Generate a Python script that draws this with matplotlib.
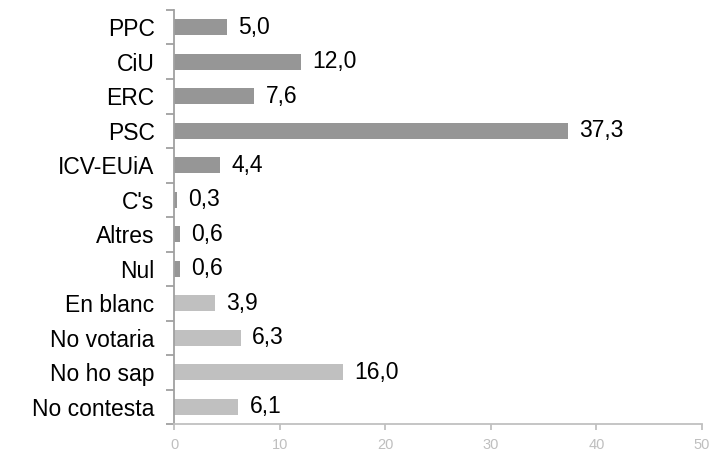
import matplotlib.pyplot as plt
import numpy as np

# data
categories = ['PPC', 'CiU', 'ERC', 'PSC', 'ICV-EUiA', "C's", 'Altres', 'Nul',
              'En blanc', 'No votaria', 'No ho sap', 'No contesta']
values = [5.0, 12.0, 7.6, 37.3, 4.4, 0.3, 0.6, 0.6, 3.9, 6.3, 16.0, 6.1]
n_dark = 8  # first 8 are parties/nul, rest are lighter
x_ticks = [0, 10, 20, 30, 40, 50]

dark = '#969696'
light = '#c0c0c0'
colors = [dark if i < n_dark else light for i in range(len(values))]

plt.rcParams['font.family'] = ['Liberation Sans', 'DejaVu Sans']

fig = plt.figure(figsize=(7.12, 4.54), dpi=100)
ax = fig.add_axes([0.2444, 0.066, 0.986 - 0.2444, 0.978 - 0.066])

y = np.arange(len(categories))
ax.barh(y, values, height=0.47, color=colors)

# value labels next to bar ends
for yi, v in zip(y, values):
    ax.annotate(f"{v:.1f}".replace('.', ','), (v, yi), xytext=(8, 0),
                textcoords='offset points', va='center', ha='left',
                fontsize=16.5, color='black')

ax.set_ylim(len(categories) - 0.5, -0.5)
ax.set_xlim(0, 50)

# category labels, ticks sit between categories
ax.set_yticks(y)
ax.set_yticklabels(categories, fontsize=16.5)
ax.tick_params(axis='y', which='major', length=0, pad=14)
ax.set_yticks(np.arange(-0.5, len(categories)), minor=True)
ax.tick_params(axis='y', which='minor', length=6, width=1.3, color='#a0a0a0',
               direction='out')

ax.set_xticks(x_ticks)
ax.tick_params(axis='x', length=4, width=1.3, color=light, labelcolor='#bfbfbf',
               labelsize=10.5, pad=6)

for side in ['top', 'right']:
    ax.spines[side].set_visible(False)
ax.spines['left'].set_color('#a0a0a0')
ax.spines['left'].set_linewidth(1.3)
ax.spines['bottom'].set_color(light)
ax.spines['bottom'].set_linewidth(1.3)

fig.savefig('out.png', dpi=100)
